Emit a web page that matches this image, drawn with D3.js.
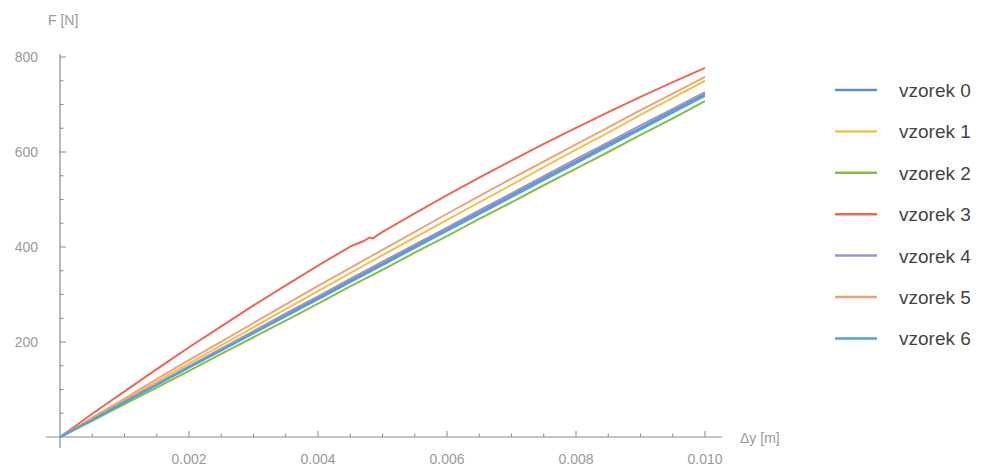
<!DOCTYPE html>
<html>
<head>
<meta charset="utf-8">
<script src="https://cdn.jsdelivr.net/npm/d3@7"></script>
<style>
  body { margin: 0; background: #fff; }
  svg { display: block; font-family: "Liberation Sans", Arial, sans-serif; }
</style>
</head>
<body>
<script>
// displacement samples [m]
const dy = [0, 0.0005, 0.001, 0.0015, 0.002, 0.0025, 0.003, 0.0035, 0.004, 0.0045,
  0.005, 0.0055, 0.006, 0.0065, 0.007, 0.0075, 0.008, 0.0085, 0.009, 0.0095, 0.01];

const seriesNames = ["vzorek 0", "vzorek 1", "vzorek 2", "vzorek 3", "vzorek 4", "vzorek 5", "vzorek 6"];
const seriesColors = ["#6690c4", "#f2c04e", "#86bd45", "#ef6656", "#9b94c8", "#eda476", "#4ea3da"];

// force [N]
const vzorek0 = [0, 37, 74, 111, 147, 184, 220, 257, 293, 329, 365, 402, 438, 473, 509, 545, 580, 616, 651, 687, 722];
const vzorek1 = [0, 39, 78, 116, 155, 193, 231, 269, 307, 345, 383, 420, 457, 494, 531, 568, 605, 641, 678, 714, 750];
const vzorek2 = [0, 34, 69, 104, 139, 175, 210, 245, 281, 317, 352, 388, 423, 459, 494, 530, 565, 600, 636, 671, 707];
const vzorek4 = [0, 37, 75, 112, 149, 186, 223, 260, 296, 333, 369, 405, 441, 477, 513, 549, 585, 620, 656, 691, 726];
const vzorek5 = [0, 41, 81, 122, 162, 201, 240, 279, 318, 356, 394, 432, 470, 507, 544, 580, 616, 652, 688, 723, 758];
const vzorek6 = [0, 36, 73, 109, 146, 182, 218, 254, 290, 326, 362, 398, 434, 469, 505, 541, 576, 612, 647, 683, 718];
// vzorek 3 has its own samples (small step near 0.0048 m)
const dy3 = [0, 0.0005, 0.0007, 0.001, 0.0015, 0.002, 0.0025, 0.003, 0.0035, 0.004, 0.0045,
  0.0047, 0.0048, 0.00485, 0.0049, 0.005, 0.0055, 0.006, 0.0065, 0.007, 0.0075, 0.008, 0.0085, 0.009, 0.0095, 0.01];
const vzorek3 = [0, 49, 68, 96, 143, 189, 233, 277, 319, 361, 401,
  412, 420, 418, 423, 432, 471, 509, 546, 582, 617, 651, 684, 716, 747, 777];

const xTicks = [0.002, 0.004, 0.006, 0.008, 0.010];
const yTicks = [200, 400, 600, 800];

const series = [
  {name: seriesNames[0], x: dy, y: vzorek0},
  {name: seriesNames[1], x: dy, y: vzorek1},
  {name: seriesNames[2], x: dy, y: vzorek2},
  {name: seriesNames[3], x: dy3, y: vzorek3},
  {name: seriesNames[4], x: dy, y: vzorek4},
  {name: seriesNames[5], x: dy, y: vzorek5},
  {name: seriesNames[6], x: dy, y: vzorek6}
];

const width = 1006, height = 468;
const svg = d3.select("body").append("svg")
  .attr("width", width)
  .attr("height", height);

const x = d3.scaleLinear().domain([0, 0.01]).range([60, 705]);
const y = d3.scaleLinear().domain([0, 800]).range([437, 57]);

const axisColor = "#8a8a8a";
const labelColor = "#9a9a9a";

// axes lines (crossing at origin)
svg.append("line")
  .attr("x1", 46).attr("x2", 722)
  .attr("y1", y(0)).attr("y2", y(0))
  .attr("stroke", axisColor).attr("stroke-width", 1.2);
svg.append("line")
  .attr("x1", x(0)).attr("x2", x(0))
  .attr("y1", 448).attr("y2", 54)
  .attr("stroke", axisColor).attr("stroke-width", 1.2);

// x ticks, major + minor, pointing up
const xMinor = d3.range(0.0005, 0.01001, 0.0005);
svg.append("g").selectAll("line")
  .data(xMinor)
  .join("line")
  .attr("x1", d => x(d)).attr("x2", d => x(d))
  .attr("y1", y(0))
  .attr("y2", d => y(0) - (xTicks.some(t => Math.abs(t - d) < 1e-9) ? 6 : 3.5))
  .attr("stroke", axisColor);

svg.append("g").selectAll("text")
  .data(xTicks)
  .join("text")
  .attr("x", d => x(d))
  .attr("y", 464)
  .attr("text-anchor", "middle")
  .attr("fill", labelColor)
  .style("font-size", "14px")
  .text(d => d3.format(".3f")(d));

// y ticks, pointing right
const yMinor = d3.range(50, 801, 50);
svg.append("g").selectAll("line")
  .data(yMinor)
  .join("line")
  .attr("x1", x(0))
  .attr("x2", d => x(0) + (d % 200 === 0 ? 6 : 3.5))
  .attr("y1", d => y(d)).attr("y2", d => y(d))
  .attr("stroke", axisColor);

svg.append("g").selectAll("text")
  .data(yTicks)
  .join("text")
  .attr("x", 38)
  .attr("y", d => y(d) + 5)
  .attr("text-anchor", "end")
  .attr("fill", labelColor)
  .style("font-size", "14px")
  .text(d => d);

// axis labels
svg.append("text")
  .attr("x", 48).attr("y", 25)
  .attr("fill", labelColor)
  .style("font-size", "14px")
  .text("F [N]");
svg.append("text")
  .attr("x", 740).attr("y", 443)
  .attr("fill", labelColor)
  .style("font-size", "14px")
  .text("Δy [m]");

// curves
const line = d3.line()
  .x(d => x(d[0]))
  .y(d => y(d[1]));

svg.append("g")
  .attr("fill", "none")
  .selectAll("path")
  .data(series)
  .join("path")
  .attr("stroke", (d, i) => seriesColors[i])
  .attr("stroke-width", 2)
  .attr("stroke-linejoin", "round")
  .attr("d", d => line(d.x.map((v, i) => [v, d.y[i]])));

// legend
const legend = svg.append("g")
  .selectAll("g")
  .data(seriesNames)
  .join("g")
  .attr("transform", (d, i) => `translate(835,${90 + i * 41.4})`);

legend.append("line")
  .attr("x1", 0).attr("x2", 42)
  .attr("stroke", (d, i) => seriesColors[i])
  .attr("stroke-width", 2.5);

legend.append("text")
  .attr("x", 64)
  .attr("y", 7)
  .attr("fill", "#444")
  .style("font-size", "19px")
  .text(d => d);
</script>
</body>
</html>
